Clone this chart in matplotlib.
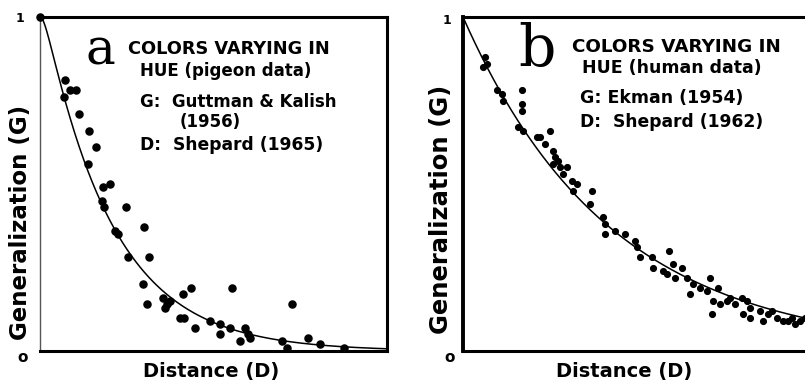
import matplotlib.pyplot as plt
import numpy as np

# panel a: pigeon data (Guttman & Kalish 1956)
a_dist = [0.00, 0.72, 1.04, 0.86, 0.69, 1.12, 1.41, 1.61, 1.38, 2.02, 1.82, 1.79, 1.84,
          2.48, 2.16, 2.25, 3.00, 2.54, 3.14, 2.97, 3.08, 3.54, 3.66, 3.60, 3.75, 4.12,
          4.35, 5.53, 7.26, 4.03, 4.15, 4.47, 4.90, 5.19, 5.48, 5.19, 5.91, 5.99, 5.76,
          6.05, 6.97, 7.12, 7.72, 8.07, 8.76]
a_gen = [1.00, 0.81, 0.78, 0.78, 0.76, 0.71, 0.66, 0.61, 0.56, 0.50, 0.49, 0.45, 0.43,
         0.43, 0.36, 0.35, 0.37, 0.28, 0.28, 0.20, 0.14, 0.16, 0.14, 0.13, 0.15, 0.17,
         0.19, 0.19, 0.14, 0.10, 0.10, 0.07, 0.09, 0.08, 0.07, 0.05, 0.07, 0.05, 0.03,
         0.04, 0.03, 0.01, 0.04, 0.02, 0.01]

# panel b: human data (Ekman 1954)
b_dist = [0.63, 0.69, 0.58, 0.98, 1.12, 1.15, 1.70, 1.70, 1.70, 1.59, 1.73, 2.13, 2.22,
          2.51, 2.36, 2.59, 2.65, 2.74, 2.59, 2.80, 3.00, 2.88, 3.14, 3.29, 3.17, 3.72,
          3.66, 4.03, 4.09, 4.09, 4.38, 4.67, 4.96, 5.01, 5.10, 5.45, 5.48, 5.76, 5.88,
          5.94, 6.05, 6.31, 6.11, 6.46, 6.54, 6.63, 6.83, 7.03, 7.12, 7.35, 7.20, 7.41,
          7.61, 7.18, 7.69, 7.84, 8.04, 8.18, 8.27, 8.07, 8.27, 8.56, 8.65, 8.79, 8.90,
          9.05, 9.22, 9.37, 9.48, 9.57, 9.71, 9.86]
b_gen = [0.88, 0.86, 0.85, 0.78, 0.77, 0.75, 0.78, 0.74, 0.72, 0.67, 0.66, 0.64, 0.64,
         0.66, 0.62, 0.60, 0.58, 0.57, 0.56, 0.55, 0.55, 0.53, 0.51, 0.50, 0.48, 0.48,
         0.44, 0.40, 0.38, 0.35, 0.36, 0.35, 0.33, 0.31, 0.28, 0.28, 0.25, 0.24, 0.23,
         0.30, 0.26, 0.25, 0.22, 0.22, 0.17, 0.20, 0.19, 0.18, 0.22, 0.19, 0.15, 0.14,
         0.15, 0.11, 0.16, 0.14, 0.16, 0.15, 0.13, 0.11, 0.10, 0.12, 0.09, 0.11, 0.12,
         0.10, 0.09, 0.09, 0.10, 0.08, 0.09, 0.10]

# fitted decay curves (a has a slightly rounded start)
a_rate, a_round = 0.51, 0.18
b_rate = 0.235

a_text = ["COLORS VARYING IN", "HUE (pigeon data)", "G:  Guttman & Kalish", "(1956)",
          "D:  Shepard (1965)"]
b_text = ["COLORS VARYING IN", "HUE (human data)", "G: Ekman (1954)", "D:  Shepard (1962)"]

fig = plt.figure(figsize=(8.05, 3.83), dpi=100)
ax1 = fig.add_axes([40/805, 32/383, 347/805, 334/383])
ax2 = fig.add_axes([463/805, 32/383, 347/805, 334/383])

xs = np.linspace(0, 10, 400)
ax1.plot(xs, np.exp(-a_rate*(np.sqrt(xs**2 + a_round**2) - a_round)), color='black', lw=1.1)
ax1.scatter(a_dist, a_gen, s=26, color='black', clip_on=False, zorder=3)
ax2.plot(xs, np.exp(-b_rate*xs), color='black', lw=1.1)
ax2.scatter(b_dist, b_gen, s=17, color='black', clip_on=False, zorder=3)

for ax in (ax1, ax2):
    ax.set_xlim(0, 10)
    ax.set_ylim(0, 1)
    ax.set_xticks([])
    ax.set_yticks([])
    ax.set_xlabel('Distance (D)', fontsize=14, fontweight='bold')
    for s in ax.spines.values():
        s.set_linewidth(2.2)

ax1.xaxis.set_label_coords(0.493, -0.033)
ax2.xaxis.set_label_coords(0.464, -0.033)
ax1.set_ylabel('Generalization (G)', fontsize=16.5, fontweight='bold')
ax2.set_ylabel('Generalization (G)', fontsize=17.5, fontweight='bold')
ax1.spines['left'].set_linewidth(1.0)
ax1.spines['left'].set_color('#555555')
ax1.yaxis.set_label_coords(-0.022, 0.385)
ax2.yaxis.set_label_coords(-0.028, 0.425)
ax2.spines['left'].set_linewidth(2.8)

t1 = ax1.transAxes
t2 = ax2.transAxes

# 0 / 1 labels on the G axis
ax1.text(-0.058, 0.995, '1', fontsize=9, fontweight='bold', ha='center', va='center', transform=t1)
ax1.text(-0.05, -0.018, 'o', fontsize=11, fontweight='bold', ha='center', va='center', transform=t1)
ax2.text(-0.046, 0.99, '1', fontsize=9, fontweight='bold', ha='center', va='center', transform=t2)
ax2.text(-0.038, -0.018, 'o', fontsize=11, fontweight='bold', ha='center', va='center', transform=t2)

# panel a annotations
ax1.text(0.173, 0.90, 'a', fontsize=36, family='DejaVu Serif', ha='center', va='center', transform=t1)
ax1.text(0.254, 0.904, a_text[0], fontsize=12.8, fontweight='bold', va='center', transform=t1)
ax1.text(0.288, 0.838, a_text[1], fontsize=12, fontweight='bold', va='center', transform=t1)
ax1.text(0.288, 0.746, a_text[2], fontsize=12, fontweight='bold', va='center', transform=t1)
ax1.text(0.403, 0.686, a_text[3], fontsize=12, fontweight='bold', va='center', transform=t1)
ax1.text(0.288, 0.617, a_text[4], fontsize=12.3, fontweight='bold', va='center', transform=t1)

# panel b annotations
ax2.text(0.213, 0.90, 'b', fontsize=42, family='DejaVu Serif', ha='center', va='center', transform=t2)
ax2.text(0.314, 0.910, b_text[0], fontsize=13.2, fontweight='bold', va='center', transform=t2)
ax2.text(0.343, 0.847, b_text[1], fontsize=12.5, fontweight='bold', va='center', transform=t2)
ax2.text(0.337, 0.757, b_text[2], fontsize=12.5, fontweight='bold', va='center', transform=t2)
ax2.text(0.337, 0.686, b_text[3], fontsize=12.3, fontweight='bold', va='center', transform=t2)

fig.savefig('out.png', dpi=100)
